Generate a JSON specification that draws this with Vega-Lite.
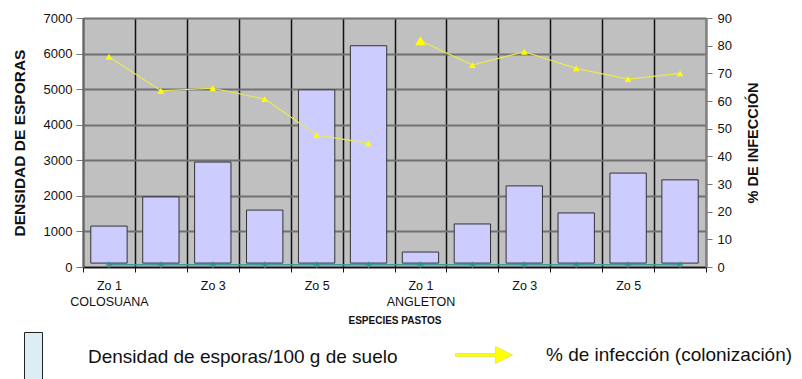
{
  "$schema": "https://vega.github.io/schema/vega-lite/v6.json",
  "autosize": {"type": "none"},
  "padding": {"left": 83, "top": 18, "right": 96, "bottom": 112},
  "width": 623,
  "height": 249,
  "background": "white",
  "config": {
    "view": {"fill": "#C0C0C0", "stroke": null},
    "font": "Liberation Sans",
    "axis": {"labelFont": "Liberation Sans", "labelColor": "#111", "labelFontSize": 13}
  },
  "data": {
    "values": [
      {"cat": "COLOSUANA Zo 1", "especie": "COLOSUANA", "densidad": 1150, "infeccion": 76.0, "base": 60},
      {"cat": "COLOSUANA Zo 2", "especie": "COLOSUANA", "densidad": 1970, "infeccion": 63.7, "base": 60},
      {"cat": "COLOSUANA Zo 3", "especie": "COLOSUANA", "densidad": 2950, "infeccion": 64.6, "base": 60},
      {"cat": "COLOSUANA Zo 4", "especie": "COLOSUANA", "densidad": 1600, "infeccion": 60.7, "base": 60},
      {"cat": "COLOSUANA Zo 5", "especie": "COLOSUANA", "densidad": 4980, "infeccion": 47.7, "base": 60},
      {"cat": "COLOSUANA Zo 6", "especie": "COLOSUANA", "densidad": 6220, "infeccion": 44.7, "base": 60},
      {"cat": "ANGLETON Zo 1", "especie": "ANGLETON", "densidad": 420, "infeccion": 81.8, "base": 60},
      {"cat": "ANGLETON Zo 2", "especie": "ANGLETON", "densidad": 1210, "infeccion": 73.0, "base": 60},
      {"cat": "ANGLETON Zo 3", "especie": "ANGLETON", "densidad": 2280, "infeccion": 77.8, "base": 60},
      {"cat": "ANGLETON Zo 4", "especie": "ANGLETON", "densidad": 1520, "infeccion": 71.8, "base": 60},
      {"cat": "ANGLETON Zo 5", "especie": "ANGLETON", "densidad": 2640, "infeccion": 67.9, "base": 60},
      {"cat": "ANGLETON Zo 6", "especie": "ANGLETON", "densidad": 2450, "infeccion": 70.0, "base": 60}
    ]
  },
  "encoding": {
    "x": {
      "field": "cat",
      "type": "nominal",
      "sort": null,
      "scale": {"paddingInner": 0, "paddingOuter": 0},
      "axis": {
        "title": "ESPECIES PASTOS",
        "titleFont": "Liberation Sans",
        "titleFontSize": 10,
        "titleFontWeight": "bold",
        "titleColor": "#111",
        "titlePadding": 8,
        "labelAngle": 0,
        "labelFontSize": 12.5,
        "labelPadding": 7,
        "labelLineHeight": 16,
        "labelExpr": "test(/Zo (1|3|5)$/, datum.value) ? (test(/Zo 1$/, datum.value) ? [slice(datum.value, -4), split(datum.value, ' ')[0]] : slice(datum.value, -4)) : ''",
        "tickBand": "extent",
        "tickSize": 5,
        "tickColor": "#111",
        "domainColor": "#111",
        "domainWidth": 1.5,
        "grid": true,
        "gridColor": "#111",
        "gridWidth": 1.5,
        "labelOverlap": false
      }
    }
  },
  "layer": [
    {
      "encoding": {
        "y": {
          "field": "densidad",
          "type": "quantitative",
          "scale": {"domain": [0, 7000]},
          "axis": {
            "title": "DENSIDAD DE ESPORAS",
            "titleFont": "Liberation Sans",
            "titleFontSize": 15.5,
            "titleFontWeight": "bold",
            "titleColor": "#111",
            "titlePadding": 16,
            "format": "d",
            "values": [0, 1000, 2000, 3000, 4000, 5000, 6000, 7000],
            "tickSize": 7,
            "tickColor": "#777",
            "labelPadding": 4,
            "domainColor": "#666",
            "domainWidth": 2,
            "grid": true,
            "gridColor": "#707070",
            "gridWidth": 2
          }
        }
      },
      "layer": [
        {
          "mark": {"type": "bar", "width": {"band": 0.7}, "fill": "#CCCCFF", "stroke": "#333", "strokeWidth": 1},
          "encoding": {
            "y2": {"datum": 110}
          }
        },
        {
          "mark": {"type": "line", "color": "#3A9E9E", "strokeWidth": 1.5},
          "encoding": {
            "y": {"field": "base", "type": "quantitative"}
          }
        },
        {
          "mark": {"type": "point", "shape": "M0,-1L0,1M-1,0L1,0", "filled": false, "color": "#2E9090", "size": 40, "strokeWidth": 1.2, "opacity": 1},
          "encoding": {
            "y": {"field": "base", "type": "quantitative"},
            "fill": {
              "datum": "Densidad de esporas/100 g de suelo",
              "scale": {"range": ["#DAEEF3"]},
              "legend": {
                "orient": "none",
                "legendX": -74,
                "legendY": 314,
                "title": null,
                "padding": 0,
                "symbolType": "M-0.375,-1L0.375,-1L0.375,1L-0.375,1Z",
                "symbolSize": 2304,
                "symbolStrokeColor": "#222",
                "symbolStrokeWidth": 1,
                "symbolOpacity": 1,
                "labelOffset": 30,
                "labelFont": "Liberation Sans",
                "labelFontSize": 19,
                "labelColor": "#111",
                "labelLimit": 500
              }
            }
          }
        }
      ]
    },
    {
      "encoding": {
        "y": {
          "field": "infeccion",
          "type": "quantitative",
          "scale": {"domain": [0, 90]},
          "axis": {
            "orient": "right",
            "title": "% DE INFECCIÓN",
            "titleFont": "Liberation Sans",
            "titleFontSize": 14.5,
            "titleFontWeight": "bold",
            "titleColor": "#111",
            "titleAngle": 270,
            "titlePadding": 29,
            "values": [0, 10, 20, 30, 40, 50, 60, 70, 80, 90],
            "tickSize": 6,
            "tickColor": "#777",
            "labelPadding": 5,
            "domainColor": "#808080",
            "domainWidth": 2,
            "grid": false
          }
        }
      },
      "layer": [
        {
          "mark": {"type": "line", "strokeWidth": 1.2},
          "encoding": {
            "detail": {"field": "especie"},
            "stroke": {
              "datum": "% de infección (colonización)",
              "scale": {"range": ["#EAEA50"]},
              "legend": {
                "orient": "none",
                "legendX": 372,
                "legendY": 308,
                "title": null,
                "padding": 0,
                "symbolType": "M-1,-0.05L0.4,-0.05L0.4,-0.3L1,0L0.4,0.3L0.4,0.05L-1,0.05Z",
                "symbolSize": 3249,
                "symbolFillColor": "#FFFF00",
                "symbolStrokeWidth": 1,
                "symbolOpacity": 1,
                "labelOffset": 33,
                "labelFont": "Liberation Sans",
                "labelFontSize": 19,
                "labelColor": "#111",
                "labelLimit": 500
              }
            }
          }
        },
        {
          "mark": {"type": "point", "shape": "triangle-up", "filled": true, "color": "#FFFF00", "opacity": 1},
          "encoding": {
            "size": {
              "condition": {"test": "datum.cat == 'ANGLETON Zo 1'", "value": 110},
              "value": 45
            }
          }
        }
      ]
    }
  ],
  "resolve": {"scale": {"y": "independent"}}
}
